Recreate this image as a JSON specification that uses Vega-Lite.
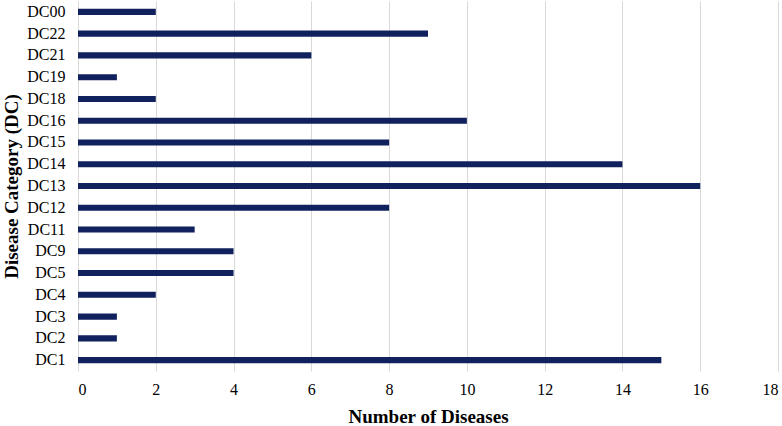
{
  "$schema": "https://vega.github.io/schema/vega-lite/v6.json",
  "autosize": {"type": "none"},
  "width": 700,
  "height": 370,
  "padding": {"left": 78, "top": 1, "right": 4, "bottom": 55},
  "background": "white",
  "data": {"values": [
    {"category": "DC00", "count": 2},
    {"category": "DC22", "count": 9},
    {"category": "DC21", "count": 6},
    {"category": "DC19", "count": 1},
    {"category": "DC18", "count": 2},
    {"category": "DC16", "count": 10},
    {"category": "DC15", "count": 8},
    {"category": "DC14", "count": 14},
    {"category": "DC13", "count": 16},
    {"category": "DC12", "count": 8},
    {"category": "DC11", "count": 3},
    {"category": "DC9", "count": 4},
    {"category": "DC5", "count": 4},
    {"category": "DC4", "count": 2},
    {"category": "DC3", "count": 1},
    {"category": "DC2", "count": 1},
    {"category": "DC1", "count": 15}
  ]},
  "mark": {"type": "bar", "color": "#10215e"},
  "encoding": {
    "y": {
      "field": "category", "type": "nominal", "sort": null,
      "scale": {"paddingInner": 0.72, "paddingOuter": 0.36},
      "axis": {
        "title": "Disease Category (DC)",
        "titleFont": "Liberation Serif", "titleFontSize": 19, "titleFontWeight": "bold", "titleColor": "#000",
        "titlePadding": 5,
        "labelFont": "Liberation Serif", "labelFontSize": 16, "labelColor": "#000",
        "labelPadding": 13, "ticks": false, "domain": false
      }
    },
    "x": {
      "field": "count", "type": "quantitative",
      "scale": {"domain": [0, 18], "nice": false},
      "axis": {
        "title": "Number of Diseases",
        "values": [0, 2, 4, 6, 8, 10, 12, 14, 16, 18],
        "titleFont": "Liberation Serif", "titleFontSize": 19, "titleFontWeight": "bold", "titleColor": "#000",
        "titlePadding": 10,
        "labelFont": "Liberation Serif", "labelFontSize": 16, "labelColor": "#000",
        "labelPadding": 10, "ticks": false, "domain": false,
        "grid": true, "gridColor": "#d9d9d9", "gridWidth": 1
      }
    }
  },
  "config": {"view": {"stroke": null}}
}
